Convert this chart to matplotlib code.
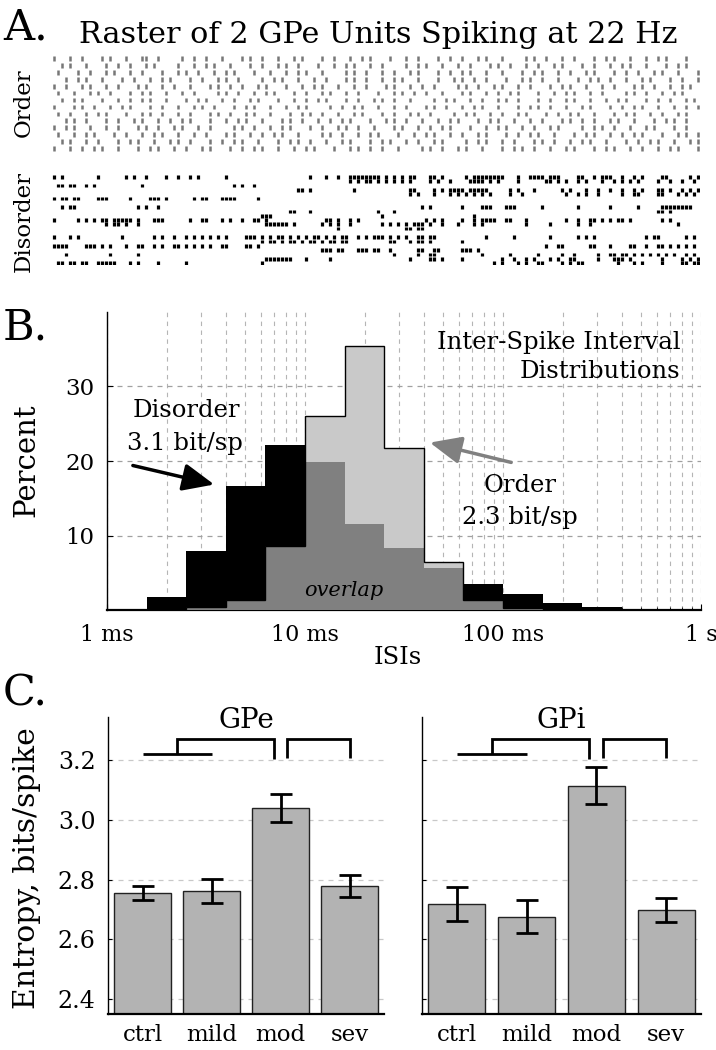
import numpy as np
import matplotlib
matplotlib.use('Agg')
import matplotlib.pyplot as plt
from matplotlib.patches import FancyArrowPatch

plt.rcParams['font.family'] = ['DejaVu Serif']

# ---------------- data ----------------
# Panel A: raster rows (each char = one time bin, '|' = spike)
order_rows = [
    "|...|..|....|.|...|...||..|.....|..|..|...|....|.|..|...|...|.|....|..|...|..|.|....|...|..|....|..|..|...|.|...|.....|.|..|...|..|....|..|.|...|...|..|.|....|...|..|...|..|",
    "..|.|...|....|..|..|...|.|.....|...|..|.|...|....|..|...|.|..|....|...|..|.|...|..|.....|..|.|...|...|..|....|.|..|...|..|...|.|....|..|...|..|.|...|....|..|.|...|...|.|",
    ".|....|..|...|.|...|..|....|...|.|..|...|..|.|....|...|...|..|.|...|.....|.|..|...|..|...|.|....|..|..|.|...|...|....|..|.|...|..|...|.|....|..|..|...|.|...|....|..|.",
    "...|..|.|...|....|..|...|..|.|....|..|...|.|..|.....|..|.|...|...|..|....|.|..|...|..|.|...|....|...|.|..|..|....|...|.|..|...|....|..|.|..|...|...|.|....|..|...|..|",
    "|..|...|.|...|..|....|.|...|..|...|....|.|..|..|...|.|....|...|..|.|...|...|..|....|.|...|..|..|.....|.|..|...|.|...|..|....|..|.|...|...|..|....|.|..|...|..|.|...|...",
    ".|...|...|.|..|....|..|.|...|...|..|.....|.|..|...|..|.|....|..|...|.|...|..|....|...|.|..|..|...|....|.|...|..|..|.|....|...|..|.|...|..|.....|.|..|...|..|.|....|..",
    "..|..|.|....|...|..|..|.|...|....|..|.|...|..|...|.|....|...|..|..|.|....|..|...|.|..|...|.....|..|.|...|..|...|.|..|....|..|...|.|...|...|..|.|....|..|..|...|.|...",
    "|....|.|..|...|..|.|....|..|...|...|.|..|....|..|.|...|...|..|.|.....|..|..|.|...|...|..|....|.|..|...|..|.|...|....|..|.|..|...|...|.|....|..|..|.|...|...|..|..|..",
    ".|..|...|..|.|....|...|.|..|...|..|....|.|..|...|.|...|....|..|.|..|...|...|.|....|..|...|.|..|.....|..|.|...|..|...|.|....|..|..|.|...|....|..|.|...|..|...|.|...|",
    "...|.|..|....|..|...|.|...|..|..|.|....|...|..|.|...|....|.|..|...|..|..|.|....|...|.|..|...|...|..|.|....|..|.|...|...|..|....|.|..|..|...|.|...|....|..|.|..|...|..",
    "|..|.|...|...|..|....|.|..|...|.|...|..|.....|.|..|...|..|.|....|..|...|.|..|...|....|.|...|..|..|.|....|...|..|.|...|..|...|.|.....|..|.|..|...|...|.|....|..|...|",
    ".|...|..|.|....|..|...|..|.|...|...|..|....|.|...|..|..|.|...|.....|.|..|...|..|.|....|...|..|.|...|..|...|.|....|..|..|.|...|....|..|.|...|..|..|.|....|...|.|..|..",
    "..|.|...|..|....|..|.|...|...|.|..|....|..|..|.|...|....|..|.|..|...|...|.|....|..|.|...|..|...|.|.....|..|.|...|..|....|.|..|...|..|.|...|....|..|..|.|...|...|.|..|",
    "|...|..|..|.|...|....|..|.|...|..|...|.|....|..|..|.|...|...|..|.|....|...|.|..|..|...|.....|.|..|...|.|...|....|..|.|..|...|...|.|....|..|.|...|..|...|..|.|....|...",
]

# Disorder raster: spike time bins for each trial (top to bottom)
disorder_spikes = [
    [0, 2, 11, 18, 20, 23, 28, 31, 34, 36, 43, 64, 68, 71, 74, 75, 76, 77, 78, 79, 80, 81, 83, 85, 87, 89, 90, 94, 95, 97, 103, 105,
     106, 107, 108, 109, 110, 111, 112, 116, 119, 120, 121, 122, 124, 125, 126, 131, 132, 135, 137, 138, 139, 142, 145, 147, 152, 153, 159, 161],
    [74, 76, 78, 79, 81, 83, 85, 87, 89, 94, 96, 99, 104, 105, 106, 107, 109, 111, 116, 123, 124, 126, 128, 131, 133, 137, 140, 142, 144,
     146, 151, 154, 157, 160],
    [1, 2, 4, 5, 8, 10, 22, 45, 47, 50],
    [61, 62, 64, 75, 89, 90, 95, 97, 99, 100, 101, 102, 104, 105, 106, 107, 108, 114, 116, 120, 127, 129, 133, 136, 139, 142, 145, 147,
     151, 152, 154, 157, 159, 161],
    [89, 91, 95, 99, 101, 103, 105, 107, 109, 114, 117, 128, 131, 133, 136, 142, 145, 146, 151, 152, 156, 158, 160],
    [0, 2, 3, 5, 6, 11, 12, 13, 19, 24, 25, 26, 28, 35, 37, 38, 42, 43, 44, 45, 51],
    [],
    [2, 4, 5, 21, 23, 26, 92, 94, 102, 107, 108, 109, 113, 114, 115, 122, 131, 139, 146, 152, 153, 154, 155, 156, 157, 158, 159],
    [59, 60, 64, 81, 85, 151, 152, 154],
    [52, 53, 54, 82, 105],
    [0, 6, 8, 10, 12, 13, 15, 16, 17, 18, 19, 21, 25, 26, 27, 34, 37, 38, 42, 44, 47, 50, 51, 53, 68, 69, 71, 74, 76, 93, 95, 97, 102, 105,
     107, 108, 109, 110, 113, 114, 118, 128, 131, 134, 135, 137, 139, 141, 142, 144, 152, 154],
    [13, 15, 16, 18, 21, 53, 54, 55, 56, 57, 58, 60, 67, 69, 71, 74, 82, 84, 86, 88, 90, 91, 92, 94, 97, 101, 105, 107, 118, 124, 131,
     134, 156],
    [71, 88, 89, 91, 92],
    [],
    [0, 4, 6, 17, 25, 27, 30, 33, 35, 37, 39, 41, 43, 48, 49, 50, 52, 54, 56, 57, 59, 61, 63, 65, 66, 68, 70, 72, 73, 76, 78, 80, 81, 82,
     84, 86, 88, 91, 92, 94, 95, 108, 115, 124, 131, 133, 135, 148, 150, 151, 158, 160],
    [52, 54, 55, 57, 59, 60, 62, 64, 65, 67, 69, 70, 72, 73, 84, 85, 89, 91, 92, 94, 102],
    [0, 1, 2, 3, 8, 9, 10, 12, 14, 18, 21, 22, 25, 27, 30, 31, 33, 35, 37, 39, 42, 43, 48, 49, 51, 123, 126, 127, 134, 135, 139, 144, 145,
     148, 151, 152, 154, 156, 158, 160],
    [67, 68, 69, 71, 72, 76, 77, 78, 80, 81, 84, 91, 92, 95, 96, 102, 103, 104, 106],
    [3, 14, 21, 85, 91, 94, 95, 107, 114, 121, 127, 130, 136, 139, 140, 142, 143, 145, 147, 149, 151, 153, 155, 158, 160],
    [53, 54, 55, 56, 57, 58, 59, 63, 69, 89, 94, 95, 97, 102, 112, 115, 118, 120, 124, 126, 129, 130, 136, 140, 141, 142, 144, 152, 157,
     159, 161],
    [1, 2, 4, 5, 7, 8, 11, 12, 13, 14, 15, 19, 21, 26, 33, 52, 110, 112, 116, 118, 121, 122, 127, 129, 131, 132, 141, 145, 147, 152, 157,
     158, 160, 161],
]
n_bins_raster = 162

# Panel B: ISI histograms (percent per log bin)
isi_edges_log10 = [-2.8, -2.6, -2.4, -2.2, -2.0, -1.8, -1.6, -1.4, -1.2, -1.0, -0.8, -0.6, -0.4, -0.2, 0.0]
disorder_pct = [1.8, 7.9, 16.7, 22.2, 19.8, 11.5, 8.3, 5.6, 3.5, 2.2, 1.0, 0.45, 0.15, 0.05]
order_pct = [0.15, 0.35, 1.4, 8.6, 26.1, 35.4, 21.7, 6.5, 1.3, 0.25, 0.0, 0.0, 0.0, 0.0]
isi_tick_vals = [1e-3, 1e-2, 1e-1, 1.0]
isi_tick_labels = ["1 ms", "10 ms", "100 ms", "1 s"]
pct_ticks = [10, 20, 30]

# Panel C: entropy
conditions = ["ctrl", "mild", "mod", "sev"]
gpe_mean = [2.756, 2.762, 3.041, 2.780]
gpe_err = [0.024, 0.039, 0.047, 0.037]
gpi_mean = [2.720, 2.676, 3.115, 2.698]
gpi_err = [0.057, 0.055, 0.061, 0.040]
entropy_ticks = [2.4, 2.6, 2.8, 3.0, 3.2]
# significance marks: (x_left, x_right, y_left_end, y_right_end, y_top)
sig_line = (1.0, 2.0, 3.22)
sig_brackets = [(1.5, 2.9, 3.22, 3.205, 3.27), (3.1, 4.0, 3.207, 3.207, 3.27)]

# ---------------- figure ----------------
W, H = 716, 1050
fig = plt.figure(figsize=(W / 100, H / 100), dpi=100)


def rect(x0, y0, x1, y1):
    return [x0 / W, 1 - y1 / H, (x1 - x0) / W, (y1 - y0) / H]


def ftext(x, y, s, **kw):
    return fig.text(x / W, 1 - y / H, s, **kw)


# ---- Panel A ----
ftext(3, 40, "A.", fontsize=31, va='baseline', ha='left')
ftext(378, 43, "Raster of 2 GPe Units Spiking at 22 Hz", fontsize=21.8, va='baseline', ha='center')

axo = fig.add_axes(rect(52, 55, 700, 152))
for r, row in enumerate(order_rows):
    cols = [i for i, ch in enumerate(row[:n_bins_raster]) if ch == '|']
    axo.vlines(cols, r - 0.34, r + 0.34, color='#777777', lw=1.8)
axo.set_xlim(-0.5, n_bins_raster - 0.5)
axo.set_ylim(len(order_rows) - 0.5, -0.5)
axo.axis('off')
ftext(24, 103, "Order", fontsize=16.5, rotation=90, ha='center', va='center')

axd = fig.add_axes(rect(52, 174.8, 700, 265.2))
for r, cols in enumerate(disorder_spikes):
    axd.vlines(cols, r - 0.42, r + 0.42, color='black', lw=2.3)
axd.set_xlim(-0.5, n_bins_raster - 0.5)
axd.set_ylim(len(disorder_spikes) - 0.5, -0.5)
axd.axis('off')
ftext(24, 222, "Disorder", fontsize=16.5, rotation=90, ha='center', va='center')

# ---- Panel B ----
ftext(3, 340, "B.", fontsize=31, va='baseline', ha='left')
ftext(26, 460, "Percent", fontsize=21, rotation=90, ha='center', va='center')
axb = fig.add_axes(rect(107, 312, 701, 610))
edges = 10 ** np.array(isi_edges_log10)
dis = np.array(disorder_pct)
odr = np.array(order_pct)
axb.stairs(dis, edges, fill=True, color='black', zorder=2)
axb.stairs(odr, edges, fill=True, color='#c9c9c9', zorder=3)
axb.stairs(np.minimum(dis, odr), edges, fill=True, color='#808080', zorder=4)
axb.stairs(odr, edges, fill=False, color='black', lw=1.0, zorder=5)
axb.set_xscale('log')
axb.set_xlim(1e-3, 1.0)
axb.set_ylim(0, 40)
axb.set_yticks(pct_ticks)
axb.set_xticks(isi_tick_vals)
axb.set_xticklabels(isi_tick_labels)
axb.tick_params(axis='both', which='both', direction='in')
axb.tick_params(axis='x', which='major', length=4, labelsize=16, pad=10)
axb.tick_params(axis='x', which='minor', length=2)
axb.tick_params(axis='y', length=4, labelsize=16.5, pad=9)
axb.set_axisbelow(True)
axb.grid(True, which='both', axis='x', ls=(0, (4, 4)), color='#b5b5b5', lw=0.8)
axb.grid(True, which='major', axis='y', ls=(0, (4, 4)), color='#a0a0a0', lw=0.9)
for s in ['top', 'right']:
    axb.spines[s].set_visible(False)
axb.spines['bottom'].set_linewidth(1.6)
axb.spines['left'].set_linewidth(1.0)

axb.text(0.965, 0.899, "Inter-Spike Interval", transform=axb.transAxes, ha='right', va='center', fontsize=17.5, zorder=6)
axb.text(0.965, 0.799, "Distributions", transform=axb.transAxes, ha='right', va='center', fontsize=17.5, zorder=6)
axb.text(0.133, 0.671, "Disorder", transform=axb.transAxes, ha='center', va='center', fontsize=17.5, zorder=6)
axb.text(0.131, 0.560, "3.1 bit/sp", transform=axb.transAxes, ha='center', va='center', fontsize=17.5, zorder=6)
axb.text(0.695, 0.419, "Order", transform=axb.transAxes, ha='center', va='center', fontsize=17.5, zorder=6)
axb.text(0.695, 0.312, "2.3 bit/sp", transform=axb.transAxes, ha='center', va='center', fontsize=17.5, zorder=6)
axb.text(0.399, 0.067, "overlap", transform=axb.transAxes, ha='center', va='center', fontsize=15, style='italic', zorder=6)

arr1 = FancyArrowPatch((0.039, 0.487), (0.185, 0.419), transform=axb.transAxes,
                       arrowstyle='-|>,head_length=0.8,head_width=0.35', mutation_scale=24,
                       color='black', lw=2.5, zorder=7)
axb.add_patch(arr1)
arr2 = FancyArrowPatch((0.685, 0.493), (0.539, 0.564), transform=axb.transAxes,
                       arrowstyle='-|>,head_length=0.8,head_width=0.35', mutation_scale=24,
                       color='#808080', lw=2.5, zorder=7)
axb.add_patch(arr2)
ftext(398, 657, "ISIs", fontsize=17.5, ha='center', va='center')

# ---- Panel C ----
ftext(3, 706, "C.", fontsize=31, va='baseline', ha='left')
ftext(27, 868, "Entropy, bits/spike", fontsize=21.5, rotation=90, ha='center', va='center')

xpos = np.arange(1, len(conditions) + 1)
for k, (means, errs, title, box) in enumerate([
        (gpe_mean, gpe_err, "GPe", (108, 717, 384, 1014)),
        (gpi_mean, gpi_err, "GPi", (422, 717, 701, 1014))]):
    ax = fig.add_axes(rect(*box))
    ax.bar(xpos, means, width=0.82, color='#b3b3b3', edgecolor='#222222', lw=1.0, zorder=2)
    ax.errorbar(xpos, means, yerr=errs, fmt='none', ecolor='black', elinewidth=2.0,
                capsize=8, capthick=2.0, zorder=3)
    ax.set_xlim(0.5, 4.5)
    ax.set_ylim(2.35, 3.345)
    ax.set_yticks(entropy_ticks)
    ax.set_yticklabels([f"{v:.1f}" for v in entropy_ticks] if k == 0 else [])
    ax.set_xticks(xpos)
    ax.set_xticklabels(conditions)
    ax.tick_params(axis='x', length=0, labelsize=16.5, pad=7)
    ax.tick_params(axis='y', direction='in', length=3, labelsize=17, pad=9)
    ax.set_axisbelow(True)
    ax.grid(True, axis='y', ls=(0, (4, 4)), color='#c8c8c8', lw=0.9)
    for s in ['top', 'right']:
        ax.spines[s].set_visible(False)
    ax.spines['left'].set_linewidth(1.0)
    ax.spines['bottom'].set_linewidth(1.6)
    ax.text(0.5, 0.987, title, transform=ax.transAxes, ha='center', va='center', fontsize=20)
    x1, x2, yl = sig_line
    ax.plot([x1, x2], [yl, yl], color='black', lw=2.0, clip_on=False, solid_capstyle='butt')
    for (xa, xb, ya, yb, yt) in sig_brackets:
        ax.plot([xa, xa, xb, xb], [ya, yt, yt, yb], color='black', lw=2.0, clip_on=False,
                solid_capstyle='butt', solid_joinstyle='miter')

fig.savefig('out.png', dpi=100)
